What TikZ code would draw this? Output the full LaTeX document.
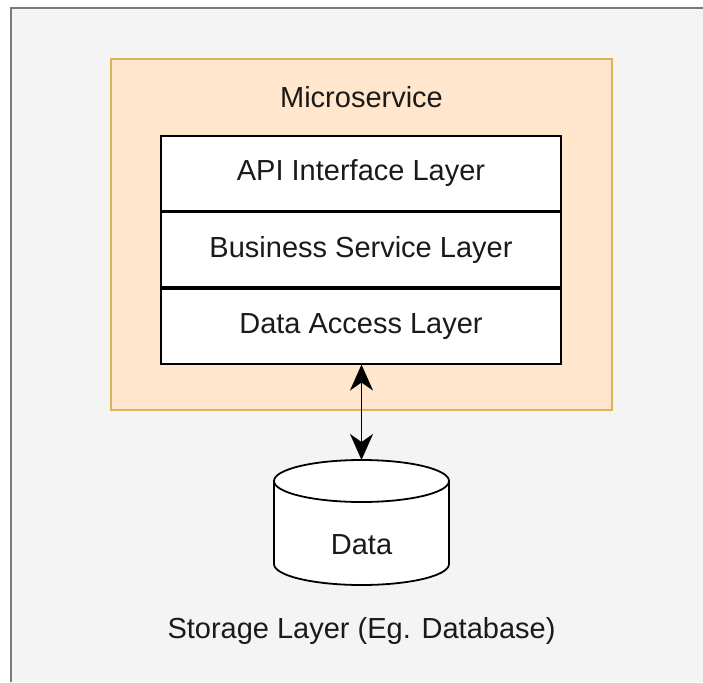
\documentclass[tikz,border=0pt]{standalone}
\usepackage{fontspec}
\setmainfont{Liberation Sans}
\usetikzlibrary{arrows.meta}
\definecolor{canvasbg}{HTML}{F4F4F4}
\definecolor{canvasedge}{HTML}{7A7A7A}
\definecolor{svcfill}{HTML}{FFE6CC}
\definecolor{svcedge}{HTML}{D6B656}
\definecolor{ink}{HTML}{1A1A1A}
\tikzset{
  layerbox/.style={draw=black, line width=1.8pt, fill=white, minimum width=400pt,
    minimum height=74.7pt, inner sep=0pt, font=\fontsize{29}{34}\selectfont, text=ink},
  plain/.style={font=\fontsize{29}{34}\selectfont, text=ink, inner sep=0pt},
  link/.style={black, line width=1.8pt, >={Stealth[length=26pt, width=23pt, inset=8pt]}, <->},
}
\begin{document}
\begin{tikzpicture}[x=1pt, y=-1pt]
  \useasboundingbox (0,0) rectangle (703,682);
  % canvas
  \fill[white] (0,0) rectangle (703,682);
  \fill[canvasbg] (11,8) rectangle (703,682);
  \draw[canvasedge, line width=2pt] (11,682) -- (11,8) -- (703,8);
  % microservice container
  \draw[svcedge, fill=svcfill, line width=1.8pt] (111,59) rectangle (612,410);
  \node[plain] (svc) at (361.5,97) {Microservice};
  % stacked layers
  \node[layerbox, anchor=north] (api) at (361,135) {API Interface Layer};
  \node[layerbox, anchor=north] (biz) at (api.south) {Business Service Layer};
  \node[layerbox, anchor=north] (dal) at (biz.south) {Data Access Layer};
  % storage cylinder (y axis points down, so the lower rim arcs through 90)
  \coordinate (dbtop) at (361.5,460);
  \fill[white] (274,481) -- (274,564) arc[start angle=180, end angle=0, x radius=87.5, y radius=21]
    -- (449,481) arc[start angle=0, end angle=-180, x radius=87.5, y radius=21] -- cycle;
  \draw[black, line width=1.8pt] (274,481) -- (274,564) arc[start angle=180, end angle=0, x radius=87.5, y radius=21]
    -- (449,481);
  \draw[black, line width=1.8pt] (361.5,481) ellipse[x radius=87.5, y radius=21];
  \node[plain] (data) at (361.5,545) {Data};
  \node[plain] (storage) at (361.5,631) {Storage Layer (Eg. Database)};
  % connector
  \draw[link] (dal.south -| dbtop) -- (dbtop);
\end{tikzpicture}
\end{document}
